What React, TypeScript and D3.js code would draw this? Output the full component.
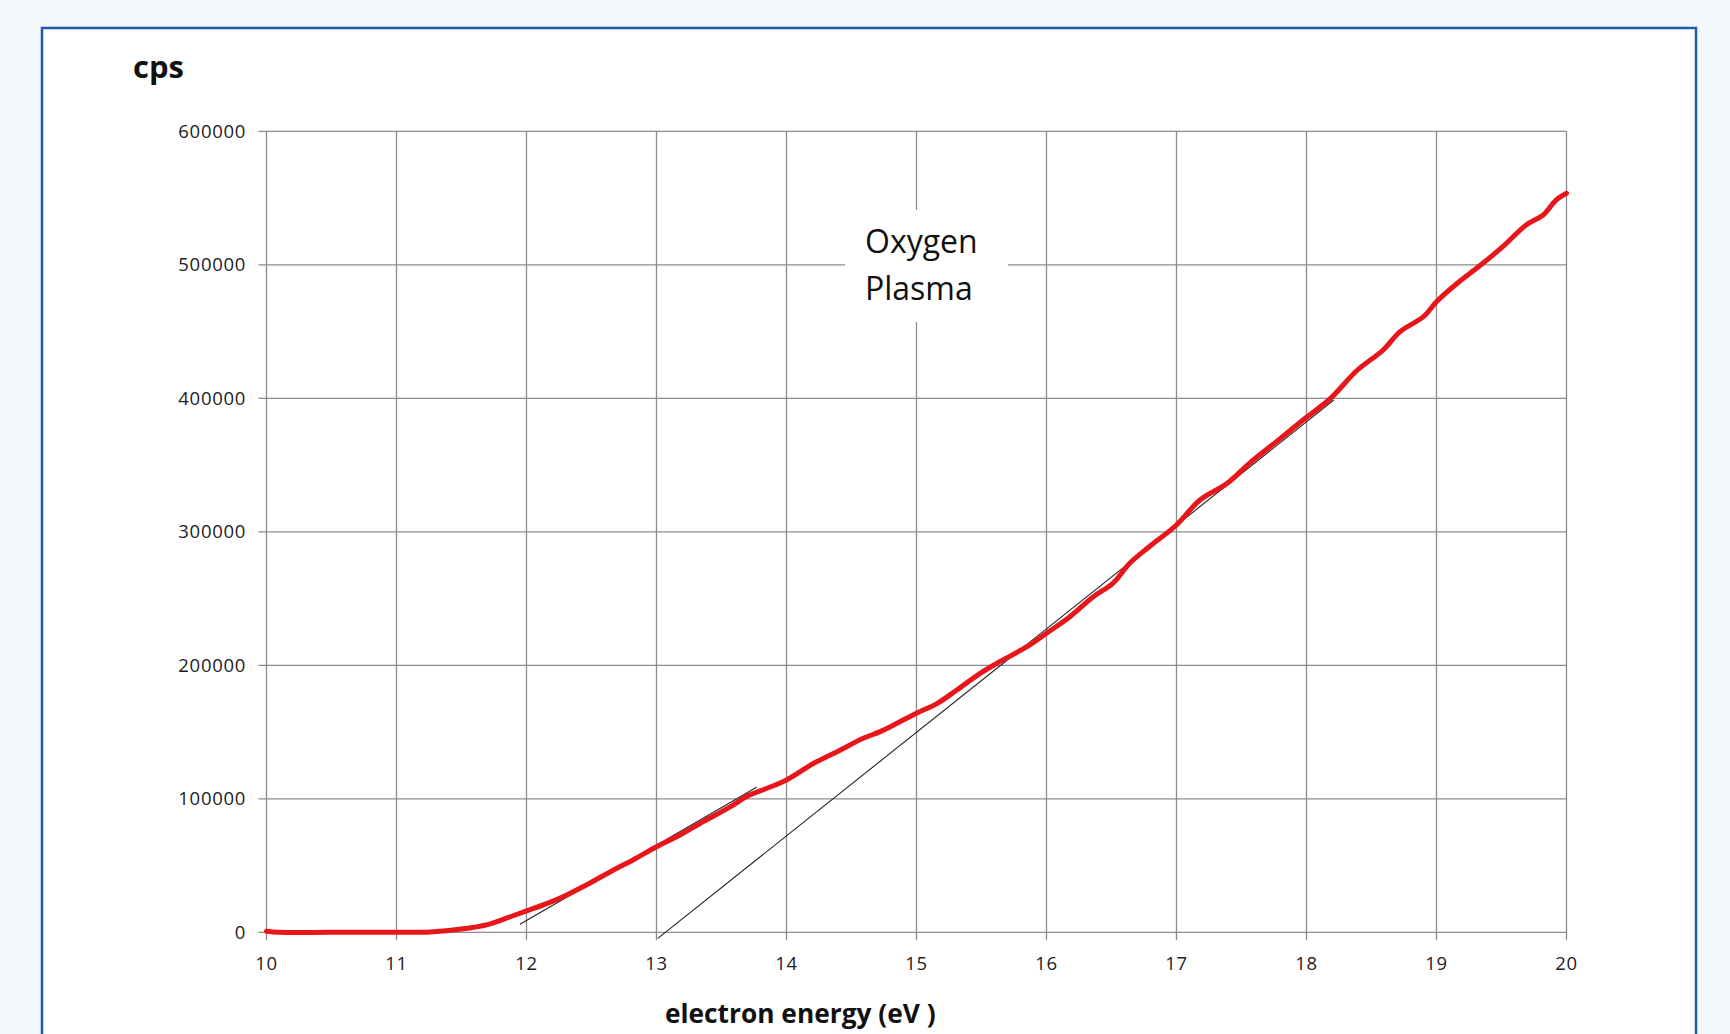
import React from "react";
import * as d3 from "d3";

const energy = [10.0, 10.1, 10.5, 11.0, 11.26, 11.5, 11.7, 11.85, 12.0, 12.16, 12.31, 12.46, 12.67, 12.82, 13.0, 13.18, 13.36, 13.57, 13.69, 13.85, 14.0, 14.21, 14.39, 14.59, 14.72, 14.85, 15.0, 15.16, 15.31, 15.49, 15.64, 15.85, 16.0, 16.18, 16.36, 16.51, 16.64, 16.79, 17.0, 17.18, 17.39, 17.56, 17.8, 17.99, 18.18, 18.39, 18.59, 18.72, 18.9, 19.0, 19.16, 19.34, 19.51, 19.69, 19.82, 19.92, 20.0];
const cps = [800, 0, 0, 0, 300, 2400, 5800, 10800, 16000, 21700, 28000, 35400, 46700, 54200, 64100, 72900, 82900, 94100, 101600, 107900, 114100, 126600, 135300, 145300, 150300, 156600, 164100, 171500, 181500, 194000, 202700, 213900, 224000, 236400, 251400, 261400, 276400, 288800, 305100, 323800, 336300, 351300, 370000, 385000, 399500, 421000, 436200, 450000, 461100, 472400, 486200, 499800, 513600, 529800, 537300, 548500, 553600];

// tangent (fit) lines: [x1, y1, x2, y2]
const fitLow = [11.95, 6000, 13.77, 108600];
const fitHigh = [13.01, -4500, 18.21, 398700];

const xTicks = [10, 11, 12, 13, 14, 15, 16, 17, 18, 19, 20];
const yTicks = [0, 100000, 200000, 300000, 400000, 500000, 600000];

const title = "cps";
const xTitle = "electron energy (eV )";
const annotation = ["Oxygen", "Plasma"];

export default function App() {
  const W = 1730, H = 1034;
  const x = d3.scaleLinear().domain([10, 20]).range([266.5, 1566.5]);
  const y = d3.scaleLinear().domain([0, 600000]).range([932.3, 131.3]);
  const pts: [number, number][] = energy.map((e, i) => [e, cps[i]]);
  const line = d3.line<[number, number]>().x(d => x(d[0])).y(d => y(d[1])).curve(d3.curveCatmullRom.alpha(0.5));
  const grid = "#8c8c8c";
  const font = "'Open Sans', 'Noto Sans', sans-serif";
  return (
    <svg width={W} height={H} style={{ position: "absolute", left: 0, top: 0, display: "block" }}>
      <rect x={0} y={0} width={W} height={H} fill="#f2f7fb" />
      <rect x={42} y={28} width={1654} height={1040} fill="#ffffff" stroke="#1d5ca6" strokeWidth={2.5} />
      {yTicks.map(t => (
        <line key={"gy" + t} x1={x(10) - 8} x2={x(20)} y1={y(t)} y2={y(t)} stroke={grid} strokeWidth={1.3} />
      ))}
      {xTicks.map(t => (
        <line key={"gx" + t} x1={x(t)} x2={x(t)} y1={y(600000)} y2={y(0) + 8} stroke={grid} strokeWidth={1.3} />
      ))}
      {yTicks.map(t => (
        <text key={"ty" + t} x={246} y={y(t)} dy="0.35em" textAnchor="end" fontFamily={font} fontSize={18.5} letterSpacing={0.7} fill="#222">{t}</text>
      ))}
      {xTicks.map(t => (
        <text key={"tx" + t} x={x(t)} y={970} textAnchor="middle" fontFamily={font} fontSize={18.5} letterSpacing={0.7} fill="#222">{t}</text>
      ))}
      <rect x={845} y={210} width={163} height={112} fill="#ffffff" />
      {annotation.map((s, i) => (
        <text key={s} x={865} y={253 + i * 47} fontFamily={font} fontSize={32} fill="#111">{s}</text>
      ))}
      {[fitLow, fitHigh].map((f, i) => (
        <line key={"f" + i} x1={x(f[0])} y1={y(f[1])} x2={x(f[2])} y2={y(f[3])} stroke="#222" strokeWidth={1.1} />
      ))}
      <path d={line(pts) || ""} fill="none" stroke="#e8161b" strokeWidth={5} strokeLinejoin="round" strokeLinecap="round" />
      <text x={133} y={78} fontFamily={font} fontWeight="bold" fontSize={31} fill="#111">{title}</text>
      <text x={665} y={1023} fontFamily={font} fontWeight="bold" fontSize={26.3} fill="#111">{xTitle}</text>
    </svg>
  );
}
